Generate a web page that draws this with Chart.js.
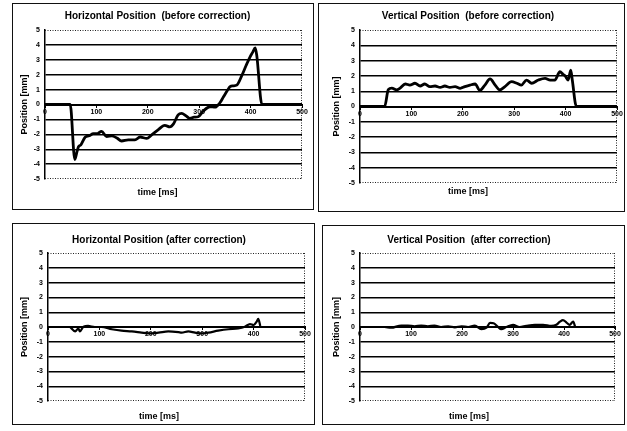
<!DOCTYPE html>
<html>
<head>
<meta charset="utf-8">
<script src="https://cdn.jsdelivr.net/npm/chart.js@4.4.1/dist/chart.umd.min.js"></script>
<style>
  html, body { margin: 0; padding: 0; background: #fff; }
  body { width: 627px; height: 431px; position: relative; overflow: hidden; }
  .panel { position: absolute; box-sizing: border-box; border: 1px solid #111; background: #fff; }
  .panel canvas { position: absolute; left: 0; top: 0; }
</style>
</head>
<body>
<div class="panel" id="p1"><canvas id="c1"></canvas></div>
<div class="panel" id="p2"><canvas id="c2"></canvas></div>
<div class="panel" id="p3"><canvas id="c3"></canvas></div>
<div class="panel" id="p4"><canvas id="c4"></canvas></div>
<script>
// ---- data (time in ms, position in mm) ----
const titles = [
  "Horizontal Position  (before correction)",
  "Vertical Position  (before correction)",
  "Horizontal Position (after correction)",
  "Vertical Position  (after correction)"
];
const xTitle = "time [ms]";
const yTitle = "Position [mm]";
const xTicks = [0, 100, 200, 300, 400, 500];
const yTicks = [-5, -4, -3, -2, -1, 0, 1, 2, 3, 4, 5];

const hBeforeT = [0,49,58,62,65,70,78,86,94,102,110,120,130,140,149,162,175,185,198,207,220,233,243,250,259,266,274,282,290,298,308,321,331,340,347,355,360,366,373,383,391,399,404,409,412,422,500];
const hBeforeV = [0,0,-3.7,-3.2,-2.85,-2.7,-2.2,-2.1,-1.95,-1.95,-1.8,-2.15,-2.1,-2.25,-2.45,-2.38,-2.38,-2.18,-2.28,-2.05,-1.7,-1.4,-1.5,-1.3,-0.7,-0.6,-0.75,-0.93,-0.85,-0.82,-0.44,-0.15,-0.18,0.1,0.5,0.95,1.2,1.25,1.3,1.95,2.6,3.2,3.5,3.8,3.3,0,0];

const vBeforeT = [0,48,55,62,71,78,88,97,107,117,126,136,146,156,165,175,185,195,204,214,224,233,243,253,263,272,282,295,305,314,324,334,347,360,370,379,389,395,399,405,410,413,421,500];
const vBeforeV = [0,0,1.1,1.2,1.08,1.2,1.47,1.4,1.52,1.34,1.47,1.3,1.34,1.25,1.34,1.25,1.3,1.19,1.3,1.4,1.47,1.05,1.4,1.8,1.4,1.08,1.3,1.62,1.52,1.4,1.73,1.52,1.73,1.84,1.73,1.73,2.27,2.1,2.0,1.73,2.38,1.73,0,0];

const hAfterT = [43,53,59,62,69,78,91,104,124,143,163,182,195,215,234,254,260,273,286,299,312,331,351,370,383,393,400,406,409,413];
const hAfterV = [0,-0.3,-0.1,-0.3,0.02,0.07,0,0,-0.15,-0.25,-0.3,-0.38,-0.43,-0.38,-0.3,-0.35,-0.38,-0.3,-0.38,-0.43,-0.38,-0.25,-0.15,-0.1,0.02,0.2,0.13,0.36,0.55,0.07];

const vAfterT = [0,35,48,61,81,94,107,120,133,146,159,173,186,199,212,225,238,248,255,262,270,277,287,300,313,326,343,359,375,385,392,398,405,411,418,422];
const vAfterV = [0,0,0,-0.05,0.1,0.1,0.05,0.1,0.05,0.1,0,0.05,-0.02,0.05,0,0.1,-0.15,-0.05,0.28,0.25,0.03,-0.15,0,0.15,0,0.08,0.15,0.15,0.08,0.15,0.36,0.47,0.3,0.15,0.36,0];

const seriesT = [hBeforeT, vBeforeT, hAfterT, vAfterT];
const seriesV = [hBeforeV, vBeforeV, hAfterV, vAfterV];

// ---- layout (page pixels) ----
const panels = [
  {box:[12,3,302,207], plot:[45,302,30,179], titleY:16, subY:193, yTitleX:25, lw:2.8},
  {box:[318,3,307,209], plot:[360,617,30,183], titleY:16, subY:192, yTitleX:337, lw:2.8},
  {box:[12,223,303,202], plot:[48,305,253,401], titleY:240, subY:417, yTitleX:25, lw:2.2},
  {box:[322,225,303,200], plot:[360,615,253,401], titleY:240, subY:417, yTitleX:337, lw:2.2}
];

const FONT = "'Liberation Sans', Arial, Helvetica, sans-serif";

const frame = {
  id: 'frame',
  beforeDatasetsDraw(chart) {
    const a = chart.chartArea, ctx = chart.ctx;
    ctx.save();
    ctx.strokeStyle = '#222';
    ctx.lineWidth = 1;
    ctx.setLineDash([1, 1.5]);
    ctx.beginPath();
    ctx.moveTo(a.left, a.top + 0.5); ctx.lineTo(a.right, a.top + 0.5);
    ctx.moveTo(a.right - 0.5, a.top); ctx.lineTo(a.right - 0.5, a.bottom);
    ctx.moveTo(a.left, a.bottom - 0.5); ctx.lineTo(a.right, a.bottom - 0.5);
    ctx.stroke();
    ctx.restore();
  }
};

panels.forEach((p, i) => {
  const [bx, by, bw, bh] = p.box;
  const [pl, pr, pt, pb] = p.plot;
  const div = document.getElementById('p' + (i + 1));
  div.style.left = bx + 'px'; div.style.top = by + 'px';
  div.style.width = bw + 'px'; div.style.height = bh + 'px';
  const cw = bw - 2, ch = bh - 2;
  const canvas = document.getElementById('c' + (i + 1));
  canvas.style.width = cw + 'px'; canvas.style.height = ch + 'px';
  canvas.width = cw; canvas.height = ch;

  const ox = bx + 1, oy = by + 1;
  const yAxisW = pl - ox;
  const padRight = ox + cw - pr;
  const tSize = 10, tLH = tSize * 1.2;
  const tTop = (p.titleY - oy) - tLH / 2;
  const tBottom = (pt - oy) - tTop - tLH;
  const sSize = 9, sLH = sSize * 1.2;
  const sTop = (p.subY - pb) - sLH / 2;
  const sBottom = (oy + ch - pb) - sTop - sLH;
  const yTLH = 9 * 1.2;
  const yTPad = (p.yTitleX - ox) - yTLH / 2;

  const pts = seriesT[i].map((t, k) => ({x: t, y: seriesV[i][k]}));

  new Chart(canvas, {
    type: 'line',
    data: { datasets: [{
      data: pts,
      borderColor: '#000',
      borderWidth: p.lw,
      pointRadius: 0,
      cubicInterpolationMode: 'monotone',
      borderJoinStyle: 'round',
      fill: false
    }]},
    options: {
      responsive: false,
      animation: false,
      devicePixelRatio: 1,
      layout: { padding: { left: 0, right: padRight, top: 0, bottom: 0 } },
      plugins: {
        legend: { display: false },
        tooltip: { enabled: false },
        title: { display: true, text: titles[i], color: '#000',
          font: { family: FONT, size: tSize, weight: 'bold', lineHeight: 1.2 },
          padding: { top: tTop, bottom: tBottom } },
        subtitle: { display: true, position: 'bottom', text: xTitle, color: '#000',
          font: { family: FONT, size: sSize, weight: 'bold', lineHeight: 1.2 },
          padding: { top: sTop, bottom: sBottom } }
      },
      scales: {
        x: {
          type: 'linear', min: 0, max: 500,
          position: { y: 0 },
          afterBuildTicks: s => { s.ticks = xTicks.map(v => ({value: v})); },
          ticks: { color: '#000', font: { family: FONT, size: 7, weight: 'bold' }, padding: 1, maxRotation: 0, autoSkip: false },
          grid: { drawOnChartArea: false, drawTicks: true, tickLength: 2, color: '#000', lineWidth: 1 },
          border: { display: true, color: '#000', width: 2 }
        },
        y: {
          type: 'linear', min: -5, max: 5,
          afterBuildTicks: s => { s.ticks = yTicks.map(v => ({value: v})); },
          afterFit: s => { s.width = yAxisW; },
          ticks: { color: '#000', font: { family: FONT, size: 7, weight: 'bold' }, padding: 5, autoSkip: false },
          grid: { drawTicks: false, lineWidth: 1.4,
            color: ctx => (ctx.tick && (ctx.tick.value === 5 || ctx.tick.value === -5)) ? 'rgba(0,0,0,0)' : '#000' },
          border: { display: true, color: '#000', width: 1.5 },
          title: { display: true, text: yTitle, color: '#000',
            font: { family: FONT, size: 9, weight: 'bold', lineHeight: 1.2 },
            padding: { top: yTPad, bottom: 0 } }
        }
      }
    },
    plugins: [frame]
  });
});
</script>
</body>
</html>
